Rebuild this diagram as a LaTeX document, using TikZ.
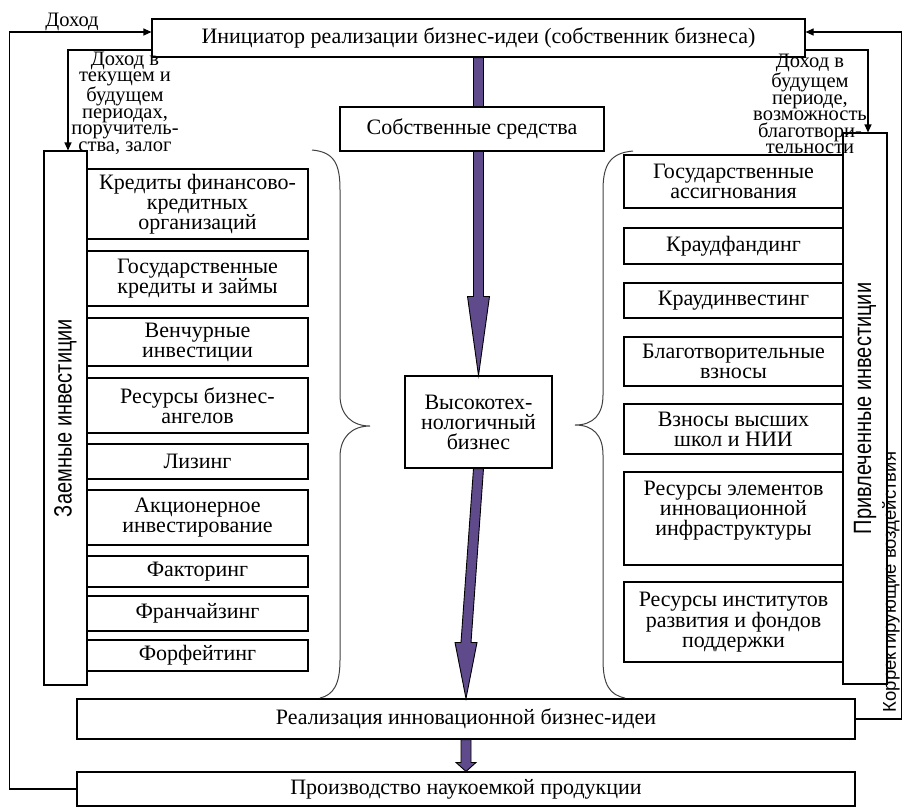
\documentclass[tikz,border=0pt]{standalone}
\usepackage{fontspec}
\setmainfont{Liberation Serif}
\newfontfamily\narrowsans[FakeStretch=0.8]{Liberation Sans}
\newfontfamily\plainsans{Liberation Sans}
\usetikzlibrary{arrows.meta,calc}
\definecolor{purp}{RGB}{95,75,140}
\begin{document}
\begin{tikzpicture}[x=1pt,y=-1pt,
  box/.style={draw, line width=1.1pt, fill=white, align=center, inner sep=0pt, font=\fontsize{22}{20}\selectfont},
  lbox/.style={box, minimum width=221pt},
  rbox/.style={box, minimum width=219pt},
  vbox/.style={draw, line width=1.1pt, fill=white, inner sep=0pt},
  vtext/.style={rotate=90, font=\narrowsans\fontsize{25}{25}\selectfont},
  lbl/.style={align=center, inner sep=0pt, font=\fontsize{20.5}{16.5}\selectfont},
  arr/.style={-{Triangle[length=8pt,width=7pt]}, line width=1.1pt},
  brace/.style={draw=black!75, line width=1pt},
  bigarrow/.style={fill=purp, draw=black, line width=0.9pt}]
\useasboundingbox (0,0) rectangle (902,807);

% main boxes
\node[box, minimum width=653pt, minimum height=38pt] (init) at (478.5,38) {Инициатор реализации бизнес-идеи (собственник бизнеса)};
\node[box, minimum width=147pt, minimum height=92pt] (ht) at (478.5,422) {Высокотех-\\нологичный\\бизнес};
\node[box, minimum width=778pt, minimum height=40pt] (real) at (466,719) {Реализация инновационной бизнес-идеи};
\node[box, minimum width=778pt, minimum height=34pt] (prod) at (466,789) {Производство наукоемкой продукции};

% purple arrows
\path[bigarrow] ($(init.south)+(-5,0)$) -- ($(ht.north)+(-5,-79)$) -- ($(ht.north)+(-11,-79)$) -- (ht.north) -- ($(ht.north)+(11,-79)$) -- ($(ht.north)+(5,-79)$) -- ($(init.south)+(5,0)$) -- cycle;
\path[bigarrow] ($(ht.south)+(-5,0)$) -- ($(real.north)+(-5,-56)$) -- ($(real.north)+(-11,-56)$) -- (real.north) -- ($(real.north)+(11,-56)$) -- ($(real.north)+(5,-56)$) -- ($(ht.south)+(5,0)$) -- cycle;
\path[bigarrow] ($(real.south)+(-5,0)$) -- ($(prod.north)+(-5,-9)$) -- ($(prod.north)+(-10,-9)$) -- (prod.north) -- ($(prod.north)+(10,-9)$) -- ($(prod.north)+(5,-9)$) -- ($(real.south)+(5,0)$) -- cycle;

\node[box, minimum width=264pt, minimum height=44pt] (own) at (472,129) {Собственные средства};

% left column
\node[vbox, minimum width=43pt, minimum height=534pt] (zaem) at (65.5,418) {};
\node[vtext] (zaemt) at (zaem.center) {Заемные инвестиции};
\node[lbox, minimum height=70pt] (l1) at (197.5,204) {Кредиты финансово-\\кредитных\\организаций};
\node[lbox, minimum height=55pt] (l2) at (197.5,278.5) {Государственные\\кредиты и займы};
\node[lbox, minimum height=48pt] (l3) at (197.5,342) {Венчурные\\инвестиции};
\node[lbox, minimum height=55pt] (l4) at (197.5,405.5) {Ресурсы бизнес-\\ангелов};
\node[lbox, minimum height=35pt] (l5) at (197.5,461.5) {Лизинг};
\node[lbox, minimum height=55pt] (l6) at (197.5,517.5) {Акционерное\\инвестирование};
\node[lbox, minimum height=31pt] (l7) at (197.5,571.5) {Факторинг};
\node[lbox, minimum height=35pt] (l8) at (197.5,613.5) {Франчайзинг};
\node[lbox, minimum height=31pt] (l9) at (197.5,655.5) {Форфейтинг};

% right column
\node[vbox, minimum width=44pt, minimum height=551pt] (priv) at (865,408.5) {};
\node[vtext] (privt) at (priv.center) {Привлеченные инвестиции};
\node[rbox, minimum height=53pt] (r1) at (733.5,181.5) {Государственные\\ассигнования};
\node[rbox, minimum height=36pt] (r2) at (733.5,246) {Краудфандинг};
\node[rbox, minimum height=35pt] (r3) at (733.5,300.5) {Краудинвестинг};
\node[rbox, minimum height=49pt] (r4) at (733.5,361.5) {Благотворительные\\взносы};
\node[rbox, minimum height=50pt] (r5) at (733.5,429) {Взносы высших\\школ и НИИ};
\node[rbox, minimum height=93pt] (r6) at (733.5,518.5) {Ресурсы элементов\\инновационной\\инфраструктуры\\\mbox{}};
\node[rbox, minimum height=80pt] (r7) at (733.5,622) {Ресурсы институтов\\развития и фондов\\поддержки};

% braces
\path[brace] (312,150) .. controls (335,152) and (340,165) .. (340,190) -- (340,395) .. controls (340,415) and (352,426) .. (370,426) .. controls (352,426) and (340,437) .. (340,457) -- (340,660) .. controls (340,685) and (333,695) .. (320,698);
\path[brace] (633,151) .. controls (610,153) and (603,165) .. (603,190) -- (603,395) .. controls (603,415) and (593,425) .. (575,425) .. controls (593,425) and (603,435) .. (603,455) -- (603,660) .. controls (603,685) and (610,695) .. (625,698);

% feedback connectors
\draw[arr] (prod.west) -- ++(-67,0) |- ($(init.west)+(0,-6)$);
\draw[arr] ($(init.west)+(0,12)$) -| ($(zaem.north)+(2.5,0)$);
\draw[arr] (real.east) -- ++(46,0) |- ($(init.east)+(0,-6)$);
\draw[arr] ($(init.east)+(0,12)$) -| ($(priv.north)+(3,0)$);

% labels
\node[lbl] (inc) at (72,22) {Доход};
\node[lbl] (incl) at (125,103) {Доход в\\текущем и\\будущем\\периодах,\\поручитель-\\ства, залог};
\node[lbl] (incr) at (810,104) {Доход в\\будущем\\периоде,\\возможность\\благотвори-\\тельности};
\node[rotate=90, inner sep=0pt, font=\plainsans\fontsize{18.5}{18.5}\selectfont] (corr) at (891,582) {Корректирующие воздействия};
\end{tikzpicture}
\end{document}
